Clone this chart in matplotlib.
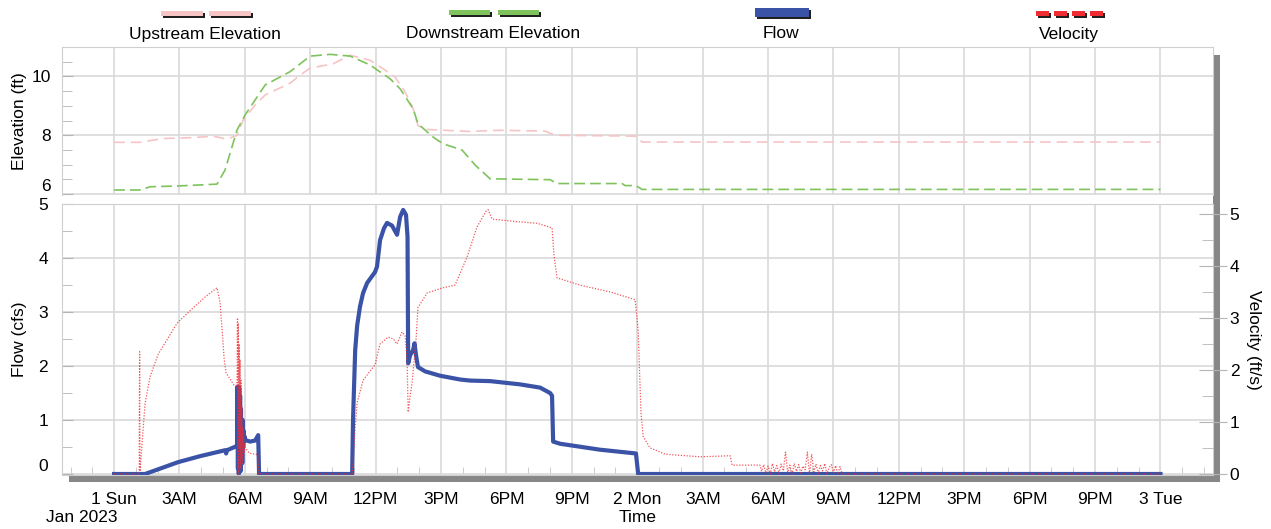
import matplotlib
matplotlib.use("Agg")
import matplotlib.pyplot as plt
from matplotlib.patches import Rectangle
from matplotlib.ticker import MultipleLocator, FixedLocator, NullFormatter
import numpy as np

plt.rcParams['font.family'] = ['Liberation Sans', 'DejaVu Sans']

# ---------------------------------------------------------------------------
# Data (time in hours since 00:00, Sun 1 Jan 2023)
# ---------------------------------------------------------------------------
up_time = [0, 1.19, 2.25, 3.62, 4.54, 5.18, 5.64, 5.92, 6.47, 6.93, 8.07, 8.53,
           8.99, 10.05, 10.83, 11.74, 12.34, 12.89, 13.35, 13.72, 13.94, 14.27,
           16.33, 17.71, 19.77, 20.23, 23.9, 24.22, 48.0]
up_elev = [7.76, 7.76, 7.89, 7.92, 7.97, 7.87, 8.0, 8.52, 9.03, 9.37, 9.77, 10.04,
           10.28, 10.43, 10.72, 10.55, 10.26, 9.98, 9.47, 8.9, 8.33, 8.2,
           8.13, 8.17, 8.14, 8.0, 7.97, 7.77, 7.77]

down_time = [0, 1.19, 1.65, 3.03, 4.72, 5.09, 5.64, 6.01, 6.93, 8.07, 8.99, 9.91,
             10.83, 11.74, 12.66, 13.12, 13.72, 13.94, 14.63, 15.09, 15.96, 16.56,
             17.25, 20.0, 20.32, 23.3, 23.44, 23.94, 24.22, 48.0]
down_elev = [6.14, 6.14, 6.25, 6.28, 6.34, 6.82, 8.18, 8.69, 9.71, 10.16, 10.69, 10.75,
             10.69, 10.39, 9.92, 9.58, 8.9, 8.39, 7.94, 7.71, 7.5, 6.99,
             6.52, 6.49, 6.36, 6.36, 6.29, 6.29, 6.16, 6.16]

flow_time = [0, 1.42, 2.94, 3.94, 5.09, 5.14, 5.18, 5.64,
             5.66, 5.68, 5.70, 5.72, 5.74, 5.76, 5.78, 5.80, 5.82, 5.84, 5.86,
             5.88, 5.90, 5.92, 5.94, 5.96, 5.98,
             6.01, 6.24, 6.47, 6.61, 6.65, 10.92, 10.96, 11.06, 11.15, 11.28,
             11.42, 11.61, 11.97, 12.06, 12.2, 12.38, 12.52, 12.75, 12.98, 13.12,
             13.26, 13.39, 13.46, 13.49, 13.58, 13.72, 13.78, 13.85, 13.94, 14.27,
             14.95, 15.87, 16.33, 17.25, 18.62, 19.54, 20.0, 20.09, 20.14, 20.46,
             22.29, 23.94, 24.04, 48.0]
flow_cfs = [0, 0, 0.22, 0.33, 0.44, 0.38, 0.44, 0.52,
            1.62, 0.1, 1.55, 0.0, 1.6, 0.3, 1.45, 0.05, 1.2, 0.4, 0.9,
            0.2, 1.0, 0.5, 0.8, 0.6, 0.7,
            0.63, 0.6, 0.62, 0.72, 0.0, 0.0, 1.0, 2.3, 2.75, 3.1,
            3.35, 3.54, 3.74, 3.84, 4.33, 4.55, 4.65, 4.6, 4.43, 4.76,
            4.89, 4.8, 4.4, 2.05, 2.2, 2.3, 2.42, 2.2, 1.98, 1.9,
            1.82, 1.75, 1.73, 1.72, 1.66, 1.6, 1.5, 1.45, 0.6, 0.56,
            0.45, 0.38, 0.0, 0.0]

vel_time = [0, 1.15, 1.17, 1.19, 1.24, 1.32, 1.42, 1.65, 2.02, 2.89, 3.62, 4.17,
            4.72, 4.86, 4.95, 5.05, 5.14, 5.5, 5.64,
            5.66, 5.68, 5.70, 5.72, 5.74, 5.76, 5.78, 5.80, 5.82, 5.84, 5.86,
            5.88, 5.90, 5.92, 5.94, 5.96, 5.98,
            6.02, 6.2, 6.6, 6.63, 10.92, 10.96, 11.06, 11.15, 11.42, 11.97,
            12.2, 12.57, 12.8, 12.98, 13.21, 13.35, 13.44, 13.49, 13.58, 13.67,
            13.85, 13.94, 14.36, 15.09, 15.64, 16.19, 16.65, 17.06, 17.16, 17.34,
            18.49, 19.4, 20.09, 20.18, 20.32, 21.38, 22.75, 23.9, 24.04, 24.17,
            24.27, 24.59, 25.28, 26.88, 28.26, 28.35, 29.63]
vel_fps = [0, 0, 2.35, 0.05, 0.33, 0.8, 1.35, 1.87, 2.3, 2.9, 3.19, 3.4,
           3.58, 3.3, 2.8, 2.2, 1.94, 1.71, 1.67,
           3.0, 0.1, 2.9, 0.0, 2.5, 0.5, 2.2, 0.1, 1.8, 0.3, 1.3,
           0.2, 0.9, 0.5, 0.8, 0.4, 0.6,
           0.5, 0.4, 0.37, 0.0, 0.0, 0.2, 0.9, 1.37, 1.8, 2.1,
           2.5, 2.63, 2.6, 2.5, 2.73, 2.65, 2.2, 1.19, 1.5, 1.75,
           2.58, 3.2, 3.48, 3.58, 3.63, 4.17, 4.75, 5.05, 5.08, 4.9,
           4.85, 4.82, 4.73, 4.2, 3.77, 3.63, 3.5, 3.35, 2.77, 1.17,
           0.72, 0.5, 0.38, 0.33, 0.35, 0.17, 0.17]
# fluctuating velocity readings on the morning of Mon 2 Jan (every 6 minutes)
vel_noise_start = 29.7
vel_noise = [0.05, 0.18, 0.02, 0.15, 0.0, 0.2, 0.04, 0.16, 0.01, 0.19, 0.06, 0.42,
             0.03, 0.17, 0.0, 0.2, 0.05, 0.18, 0.02, 0.15, 0.08, 0.42, 0.0, 0.38,
             0.04, 0.19, 0.01, 0.16, 0.06, 0.2, 0.0, 0.12, 0.18, 0.02, 0.16, 0.0,
             0.14, 0.0]
vel_tail_time = [33.4, 48.0]
vel_tail = [0.0, 0.0]

tick_hours = list(range(0, 49, 3))
tick_labels = ["1 Sun", "3AM", "6AM", "9AM", "12PM", "3PM", "6PM", "9PM", "2 Mon",
               "3AM", "6AM", "9AM", "12PM", "3PM", "6PM", "9PM", "3 Tue"]
elev_ticks = [6, 8, 10]
flow_ticks = [0, 1, 2, 3, 4, 5]
vel_ticks = [0, 1, 2, 3, 4, 5]
legend_labels = ["Upstream Elevation", "Downstream Elevation", "Flow", "Velocity"]

# assemble the full velocity series
noise_t = np.round(vel_noise_start + 0.1 * np.arange(len(vel_noise)), 2)
v_t = np.concatenate([vel_time, noise_t, vel_tail_time])
v_v = np.concatenate([vel_fps, vel_noise, vel_tail])

# ---------------------------------------------------------------------------
# Figure layout (pixel based)
# ---------------------------------------------------------------------------
W, H = 1271, 529
fig = plt.figure(figsize=(W / 100, H / 100), dpi=100)


def fx(px):
    return px / W


def fy(py):
    return 1 - py / H


L, R = 62, 1213
TOP1, BOT1 = 47, 195
TOP2, BOT2 = 204, 475
SH = 7  # drop shadow offset

ax_e = fig.add_axes([fx(L), fy(BOT1), fx(R - L), (BOT1 - TOP1) / H])
ax_f = fig.add_axes([fx(L), fy(BOT2), fx(R - L), (BOT2 - TOP2) / H])
ax_v = ax_f.twinx()

C_UP = '#f7c4c6'
C_DN = '#7fc35c'
C_FLOW = '#3b53a6'
C_VEL = '#ee2c32'
GRID = '#d9d9d9'
SPINE = '#cfcfcf'
SHADOW = '#878787'
TICK = '#b5b5b5'

xmin, xmax = -2.39, 50.41

# --- elevation panel ---
ax_e.plot(up_time, up_elev, color=C_UP, lw=1.2, ls=(0, (6.5, 3.5)), zorder=3)
ax_e.plot(down_time, down_elev, color=C_DN, lw=1.2, ls=(0, (6.5, 3)), zorder=3)
ax_e.set_xlim(xmin, xmax)
ax_e.set_ylim(5.97, 11.0)
ax_e.xaxis.set_major_locator(FixedLocator(tick_hours))
ax_e.xaxis.set_major_formatter(NullFormatter())
ax_e.tick_params(axis='x', length=0)
ax_e.yaxis.set_major_locator(FixedLocator(elev_ticks))
ax_e.yaxis.set_minor_locator(MultipleLocator(0.5))
ax_e.tick_params(axis='y', which='major', direction='in', length=8, color=TICK,
                 labelsize=12.5, pad=8)
ax_e.tick_params(axis='y', which='minor', direction='in', length=7, color=TICK)
ax_e.grid(True, which='major', color=GRID, lw=1.2)
for s in ['left', 'top', 'right']:
    ax_e.spines[s].set_color(SPINE)
ax_e.spines['bottom'].set_visible(False)

# --- flow / velocity panel ---
ax_f.plot(flow_time, flow_cfs, color=C_FLOW, lw=3.0, solid_joinstyle='round', zorder=3)
ax_f.set_xlim(xmin, xmax)
ax_f.set_ylim(-0.0185, 5.0)
ax_f.xaxis.set_major_locator(FixedLocator(tick_hours))
ax_f.set_xticklabels(tick_labels)
ax_f.xaxis.set_minor_locator(MultipleLocator(1))
ax_f.tick_params(axis='x', which='major', length=0, labelsize=12.5, pad=12)
ax_f.tick_params(axis='x', which='minor', direction='in', length=6, color='#c4c4c4')
ax_f.yaxis.set_major_locator(FixedLocator(flow_ticks))
ax_f.yaxis.set_minor_locator(MultipleLocator(0.5))
ax_f.tick_params(axis='y', which='major', direction='in', length=8, color=TICK,
                 labelsize=12.5, pad=10)
ax_f.tick_params(axis='y', which='minor', direction='in', length=7, color=TICK)
ax_f.grid(True, which='major', color=GRID, lw=1.2)
ax_f.set_axisbelow(True)
for s in ['left', 'top', 'right', 'bottom']:
    ax_f.spines[s].set_color(SPINE)

ax_v.plot(v_t, v_v, color=C_VEL, lw=0.9, ls=(0, (1, 1.3)), alpha=0.8, zorder=4)
ax_v.set_ylim(-0.02, 5.19)
ax_v.yaxis.set_major_locator(FixedLocator(vel_ticks))
ax_v.yaxis.set_minor_locator(MultipleLocator(0.5))
ax_v.tick_params(axis='y', which='major', direction='inout', length=20, color=TICK,
                 labelsize=12.5, pad=2)
ax_v.tick_params(axis='y', which='minor', direction='in', length=8, color=TICK)
for s in ax_v.spines.values():
    s.set_visible(False)

# bottom-most labels sit just above their grid line
fig.canvas.draw()
ax_e.get_yticklabels()[0].set_va('bottom')
ax_f.get_yticklabels()[0].set_va('bottom')

# --- drop shadow along bottom and right edges ---
fig.add_artist(Rectangle((fx(L + SH), fy(BOT2 + SH)), fx(R - L), SH / H,
                         transform=fig.transFigure, facecolor=SHADOW,
                         edgecolor='none', zorder=-1))
fig.add_artist(Rectangle((fx(R), fy(BOT2 + SH)), fx(SH), (BOT2 + SH - TOP1 - 8) / H,
                         transform=fig.transFigure, facecolor=SHADOW,
                         edgecolor='none', zorder=-1))

# --- axis titles ---
fig.text(fx(20), fy((TOP1 + BOT1) / 2), "Elevation (ft)", rotation=90,
         ha='center', va='center', fontsize=12.5)
fig.text(fx(20), fy((TOP2 + BOT2) / 2), "Flow (cfs)", rotation=90,
         ha='center', va='center', fontsize=12.5)
fig.text(fx(1253), fy((TOP2 + BOT2) / 2), "Velocity (ft/s)", rotation=270,
         ha='center', va='center', fontsize=12.5)
fig.text(fx(82), fy(517), "Jan 2023", ha='center', va='center', fontsize=12.5)
fig.text(fx((L + R) / 2), fy(517), "Time", ha='center', va='center', fontsize=12.5)

# --- legend across the top ---
legend_x = [205, 493, 781, 1069]
legend_colors = [C_UP, C_DN, C_FLOW, C_VEL]
legend_swatches = [
    [(161, 42), (209, 42)],
    [(449, 41), (498, 41)],
    [(755, 54)],
    [(1036, 13), (1054, 13), (1072, 13), (1090, 13)],
]
legend_heights = [(11, 5), (10, 5), (8, 9), (11, 5)]
for cx, col, segs, (y0, hh), lab in zip(legend_x, legend_colors, legend_swatches,
                                         legend_heights, legend_labels):
    for x0, ww in segs:
        fig.add_artist(Rectangle((fx(x0 + 2), fy(y0 + hh + 2)), fx(ww), hh / H,
                                 transform=fig.transFigure, facecolor='#202020',
                                 edgecolor='none'))
        fig.add_artist(Rectangle((fx(x0), fy(y0 + hh)), fx(ww), hh / H,
                                 transform=fig.transFigure, facecolor=col,
                                 edgecolor='none'))
    fig.text(fx(cx), fy(34), lab, ha='center', va='center', fontsize=12.5)

fig.savefig("out.png", dpi=100)
